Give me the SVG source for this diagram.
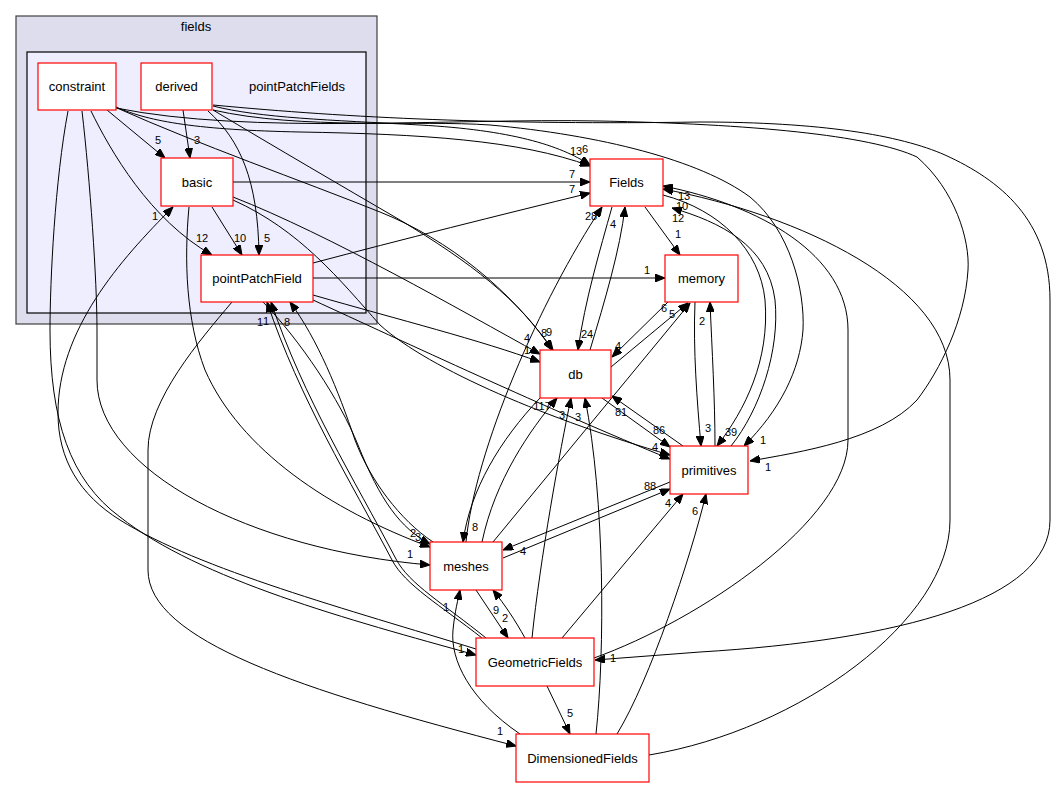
<svg xmlns="http://www.w3.org/2000/svg" width="1057" height="788" viewBox="0 0 1057 788">
<style>
.n rect{fill:#fff;stroke:#ff0000;stroke-width:1.2}
.n text,.cl text{font-family:"Liberation Sans",Arial,sans-serif;font-size:13px;text-anchor:middle;fill:#000}
.e path{fill:none;stroke:#000;stroke-width:1;marker-end:url(#a)}
.l text{font-family:"Liberation Sans",Arial,sans-serif;font-size:11px;text-anchor:middle;fill:#000}
</style>
<defs>
<marker id="a" markerWidth="10" markerHeight="8" refX="10" refY="4" orient="auto" markerUnits="userSpaceOnUse"><path d="M0,0 L10,4 L0,8 z" fill="#000" stroke="#000"/></marker>
</defs>
<rect width="1057" height="788" fill="#fff"/>
<g id="cluster_fields" class="cl">
<rect x="16" y="16" width="361" height="308" fill="#ddddee" stroke="#404040" stroke-width="1.2"/>
<text x="196" y="31">fields</text>
</g>
<g id="cluster_pointPatchFields" class="cl">
<rect x="27" y="52" width="339" height="261" fill="#eeeeff" stroke="#000" stroke-width="1.2"/>
<text x="297" y="91">pointPatchFields</text>
</g>
<g id="edges">
<g class="e">
<path d="M107,110 L165,158"/>
<path d="M183,110 L190,158"/>
<path d="M91,111 C110,150 150,220 212,255"/>
<path d="M208,111 C240,140 258,180 259,255"/>
<path d="M212,207 L242,255"/>
<path d="M233,182 L590,182"/>
<path d="M313,263 C400,240 500,215 590,193"/>
<path d="M213,106 C260,118 330,120 420,125 C510,130 560,145 590,165"/>
<path d="M116,107 C150,122 200,130 300,132 C420,134 520,140 590,166"/>
<path d="M117,108 C200,145 300,180 380,212 C450,240 510,290 553,350"/>
<path d="M213,110 C280,150 340,185 400,220 C470,262 520,300 552,350"/>
<path d="M233,197 C330,235 460,310 540,354"/>
<path d="M313,295 C400,320 480,340 540,362"/>
<path d="M233,200 C300,230 340,280 380,325 C430,370 550,420 670,455"/>
<path d="M313,300 C400,340 550,410 670,459"/>
<path d="M313,278 L665,278"/>
<path d="M232,302 C200,340 148,400 148,450 L148,570 C148,640 300,690 516,746"/>
<path d="M82,111 C90,180 97,280 97,330 L97,380 C97,470 250,550 430,565"/>
<path d="M68,111 C55,180 50,280 50,330 C50,420 70,480 120,517 C200,580 350,620 476,655"/>
<path d="M476,649 C350,610 200,570 120,520 C80,495 58,460 58,413 C58,330 120,260 173,207"/>
<path d="M189,207 C184,260 186,320 205,370 C240,450 330,510 430,547"/>
<path d="M263,302 C300,340 340,400 358,445 C380,500 400,528 430,544"/>
<path d="M433,542 C400,520 370,480 355,440 C338,390 318,340 290,302"/>
<path d="M482,638 C440,605 405,585 392,560 C350,480 300,400 267,302"/>
<path d="M486,638 C444,604 409,584 396,559 C354,479 304,399 271,302"/>
<path d="M645,207 L680,255"/>
<path d="M612,207 C600,250 585,300 578,350"/>
<path d="M590,350 C605,300 620,250 625,207"/>
<path d="M466,542 C475,450 540,300 602,207"/>
<path d="M540,398 C500,440 470,490 463,542"/>
<path d="M482,542 C495,480 530,430 557,398"/>
<path d="M668,302 L612,357"/>
<path d="M611,367 L688,303"/>
<path d="M493,542 L690,303"/>
<path d="M695,302 C693,350 697,400 701,446"/>
<path d="M715,446 C715,400 712,350 710,302"/>
<path d="M663,195 C720,210 760,250 765,300 C770,360 745,410 717,446"/>
<path d="M731,446 C760,410 780,350 775,300 C768,245 720,222 672,208"/>
<path d="M594,658 C700,620 848,520 848,440 L848,330 C848,255 760,205 663,186"/>
<path d="M649,755 C800,730 950,620 950,520 L950,380 C950,285 800,215 663,189"/>
<path d="M670,482 L503,550"/>
<path d="M503,558 L670,489"/>
<path d="M562,638 L683,494"/>
<path d="M617,734 C650,680 690,560 706,494"/>
<path d="M476,590 L508,638"/>
<path d="M525,638 C515,620 505,605 493,590"/>
<path d="M547,686 L570,734"/>
<path d="M520,734 C470,700 450,660 453,630 C455,610 458,600 460,590"/>
<path d="M532,638 C540,560 560,450 571,398"/>
<path d="M596,734 C605,650 605,500 585,398"/>
<path d="M602,398 L670,447"/>
<path d="M683,446 L612,396"/>
<path d="M116,108 C250,135 450,118 600,121 C750,124 870,135 917,157 C955,190 970,240 968,270 C965,320 940,370 917,400 C880,440 800,452 750,461"/>
<path d="M213,110 C300,130 420,120 490,125 C600,135 700,160 750,197 C790,230 805,290 803,330 C800,370 780,410 744,446"/>
<path d="M213,105 C350,118 500,125 700,122 C820,122 900,135 945,155 C1000,180 1050,220 1050,300 L1050,520 C1050,600 900,640 700,652 L595,660"/>
</g>
<g class="l">
<text x="158" y="144">5</text>
<text x="197" y="144">3</text>
<text x="202" y="242">12</text>
<text x="267" y="242">5</text>
<text x="240" y="242">10</text>
<text x="572" y="178">7</text>
<text x="572" y="193">7</text>
<text x="576" y="155">13</text>
<text x="585" y="153">6</text>
<text x="544" y="337">8</text>
<text x="549" y="336">9</text>
<text x="527" y="342">4</text>
<text x="527" y="354">1</text>
<text x="655" y="451">4</text>
<text x="647" y="274">1</text>
<text x="500" y="735">1</text>
<text x="410" y="558">1</text>
<text x="461" y="653">1</text>
<text x="155" y="220">1</text>
<text x="418" y="541">3</text>
<text x="413" y="537">2</text>
<text x="287" y="326">8</text>
<text x="260" y="326">1</text>
<text x="266" y="325">1</text>
<text x="678" y="238">1</text>
<text x="587" y="338">24</text>
<text x="613" y="228">4</text>
<text x="591" y="220">28</text>
<text x="475" y="531">8</text>
<text x="542" y="410">117</text>
<text x="618" y="350">4</text>
<text x="664" y="312">6</text>
<text x="672" y="318">5</text>
<text x="708" y="432">3</text>
<text x="702" y="325">2</text>
<text x="731" y="436">39</text>
<text x="678" y="222">12</text>
<text x="684" y="200">13</text>
<text x="682" y="210">10</text>
<text x="523" y="555">4</text>
<text x="650" y="490">88</text>
<text x="668" y="507">4</text>
<text x="695" y="515">6</text>
<text x="496" y="614">9</text>
<text x="505" y="622">2</text>
<text x="570" y="717">5</text>
<text x="446" y="611">1</text>
<text x="562" y="419">3</text>
<text x="578" y="421">3</text>
<text x="659" y="434">86</text>
<text x="621" y="416">81</text>
<text x="768" y="471">1</text>
<text x="763" y="444">1</text>
<text x="613" y="662">1</text>
</g>
</g>
<g id="node_constraint" class="n"><rect x="38" y="63" width="78" height="47"/><text x="77" y="91">constraint</text></g>
<g id="node_derived" class="n"><rect x="141" y="63" width="71" height="47"/><text x="176.5" y="91">derived</text></g>
<g id="node_basic" class="n"><rect x="161" y="158" width="72" height="48"/><text x="197" y="186.5">basic</text></g>
<g id="node_pointPatchField" class="n"><rect x="201" y="255" width="112" height="47"/><text x="257" y="283">pointPatchField</text></g>
<g id="node_Fields" class="n"><rect x="590" y="159" width="73" height="47"/><text x="626.5" y="187">Fields</text></g>
<g id="node_memory" class="n"><rect x="665" y="255" width="73" height="47"/><text x="701.5" y="283">memory</text></g>
<g id="node_db" class="n"><rect x="540" y="350" width="71" height="48"/><text x="575.5" y="378.5">db</text></g>
<g id="node_primitives" class="n"><rect x="670" y="446" width="78" height="48"/><text x="709" y="474.5">primitives</text></g>
<g id="node_meshes" class="n"><rect x="430" y="542" width="72" height="48"/><text x="466" y="570.5">meshes</text></g>
<g id="node_GeometricFields" class="n"><rect x="476" y="638" width="118" height="48"/><text x="535" y="666.5">GeometricFields</text></g>
<g id="node_DimensionedFields" class="n"><rect x="516" y="734" width="133" height="48"/><text x="582.5" y="762.5">DimensionedFields</text></g>
</svg>
